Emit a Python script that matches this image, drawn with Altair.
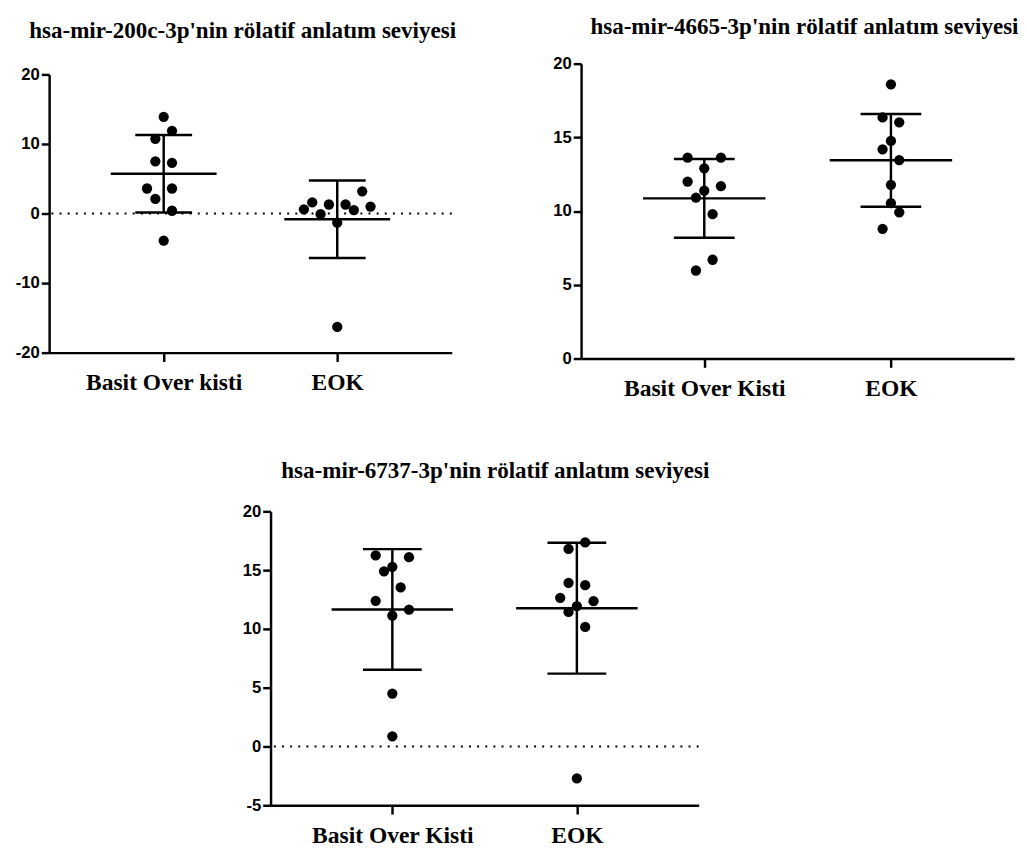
import altair as alt
import pandas as pd

# ---------------- data ----------------
titles = [
    "hsa-mir-200c-3p'nin rölatif anlatım seviyesi",
    "hsa-mir-4665-3p'nin rölatif anlatım seviyesi",
    "hsa-mir-6737-3p'nin rölatif anlatım seviyesi",
]
groups_p1 = ["Basit Over kisti", "EOK"]
groups_p23 = ["Basit Over Kisti", "EOK"]

p1_basit = [13.9, 11.9, 10.75, 7.5, 7.3, 3.6, 3.6, 2.1, 0.4, -3.9]
p1_basit_slot = [0, 1, -1, -1, 1, -2, 1, -1, 1, 0]
p1_eok = [0.6, 1.6, -0.1, 1.3, 1.3, 0.5, 3.2, 1.0, -1.3, -16.3]
p1_eok_slot = [-4, -3, -2, -1, 1, 2, 3, 4, 0, 0]

p2_basit = [13.63, 13.63, 12.9, 12.0, 11.69, 11.38, 10.92, 9.79, 6.70, 5.97]
p2_basit_slot = [-2, 2, 0, -2, 2, 0, -1, 1, 1, -1]
p2_eok = [18.6, 16.35, 16.02, 14.76, 14.19, 13.46, 11.78, 10.54, 9.92, 8.80]
p2_eok_slot = [0, -1, 1, 0, -1, 1, 0, 0, 1, -1]

p3_basit = [16.25, 16.1, 15.28, 14.9, 13.53, 12.39, 11.64, 11.14, 4.5, 0.86]
p3_basit_slot = [-2, 2, 0, -1, 1, -2, 2, 0, 0, 0]
p3_eok = [17.36, 16.8, 13.92, 13.72, 12.64, 12.36, 11.94, 11.44, 10.17, -2.72]
p3_eok_slot = [1, -1, -1, 1, -2, 2, 0, -1, 1, 0]

p1_yticks = [-20, -10, 0, 10, 20]
p2_yticks = [0, 5, 10, 15, 20]
p3_yticks = [-5, 0, 5, 10, 15, 20]
zero_line = [0]

SERIF = "Liberation Serif"
SANS = "Liberation Sans"


def panel(title, labels, va, sa, vb, sb, yticks, w, h, top_gap, mean_w, cap_w,
          show_zero, title_offset, title_dx):
    df = pd.DataFrame({
        "group": [labels[0]] * len(va) + [labels[1]] * len(vb),
        "value": va + vb,
        "slot": sa + sb,
    })
    base = alt.Chart(df)
    xenc = alt.X(
        "group:N", sort=labels, title=None,
        scale=alt.Scale(type="point", padding=0.66),
        axis=alt.Axis(
            labelAngle=0, labelFont=SERIF, labelFontWeight="bold",
            labelFontSize=24, labelColor="black", labelPadding=10,
            domainColor="black", domainWidth=2.5, tickColor="black",
            tickWidth=2.5, tickSize=9, grid=False,
        ),
    )
    yscale = alt.Scale(domain=[yticks[0], yticks[-1]], nice=False, zero=False,
                       range=[h + top_gap, top_gap])
    yaxis = alt.Axis(
        values=yticks, labelFont=SANS, labelFontWeight="bold",
        labelFontSize=17, labelColor="black", labelPadding=2,
        labelExpr="'' + datum.value",
        domainColor="black", domainWidth=2.5, tickColor="black",
        tickWidth=2.5, tickSize=8, grid=False,
    )
    pts = base.mark_circle(size=110, color="black", opacity=1).encode(
        x=xenc,
        xOffset=alt.XOffset("slot:Q", scale=alt.Scale(domain=[-4, 4], range=[-34, 34])),
        y=alt.Y("value:Q", scale=yscale, axis=yaxis, title=None),
    )
    stats = base.transform_aggregate(
        m="mean(value)", s="stdev(value)", groupby=["group"]
    ).transform_calculate(lo="datum.m - datum.s", hi="datum.m + datum.s")
    mean_tick = stats.mark_tick(color="black", size=mean_w, thickness=2.5, opacity=1).encode(
        x=xenc, y=alt.Y("m:Q", title=None))
    lo_tick = stats.mark_tick(color="black", size=cap_w, thickness=2.5, opacity=1).encode(
        x=xenc, y=alt.Y("lo:Q", title=None))
    hi_tick = stats.mark_tick(color="black", size=cap_w, thickness=2.5, opacity=1).encode(
        x=xenc, y=alt.Y("hi:Q", title=None))
    vrule = stats.mark_rule(color="black", strokeWidth=2.5).encode(
        x=xenc, y=alt.Y("lo:Q", title=None), y2="hi:Q")
    layers = []
    if show_zero:
        zdf = pd.DataFrame({"z": zero_line})
        layers.append(
            alt.Chart(zdf).mark_rule(color="black", strokeWidth=2, strokeDash=[2, 6.3]).encode(
                y=alt.Y("z:Q", title=None))
        )
    layers += [vrule, mean_tick, lo_tick, hi_tick, pts]
    return alt.layer(*layers).properties(
        width=w, height=h + top_gap,
        title=alt.TitleParams(
            title, font=SERIF, fontWeight="bold", fontSize=23.5,
            color="black", anchor="middle", offset=title_offset, dx=title_dx,
        ),
    )


p1 = panel(titles[0], groups_p1, p1_basit, p1_basit_slot, p1_eok, p1_eok_slot,
           p1_yticks, 411, 284, 11, 108, 58, True, 21.5, -8)
p2 = panel(titles[1], groups_p23, p2_basit, p2_basit_slot, p2_eok, p2_eok_slot,
           p2_yticks, 442, 301, 0, 125, 62, False, 17, 7)
p3 = panel(titles[2], groups_p23, p3_basit, p3_basit_slot, p3_eok, p3_eok_slot,
           p3_yticks, 437, 300, 0, 124, 60, True, 20.5, 11)

spacer = alt.Chart(pd.DataFrame({"v": [0]})).mark_point(opacity=0).encode(
    x=alt.value(0), y=alt.value(0)
).properties(width=197, height=10)

top = alt.hconcat(p1, p2, spacing=98)
bottom = alt.hconcat(spacer, p3, spacing=0)
chart = alt.vconcat(top, bottom, spacing=60).configure_view(stroke=None).properties(
    padding={"left": 7, "top": -2, "right": 0, "bottom": 0}
)

chart.save("out.html", embed_options={"renderer": "svg", "actions": False})
